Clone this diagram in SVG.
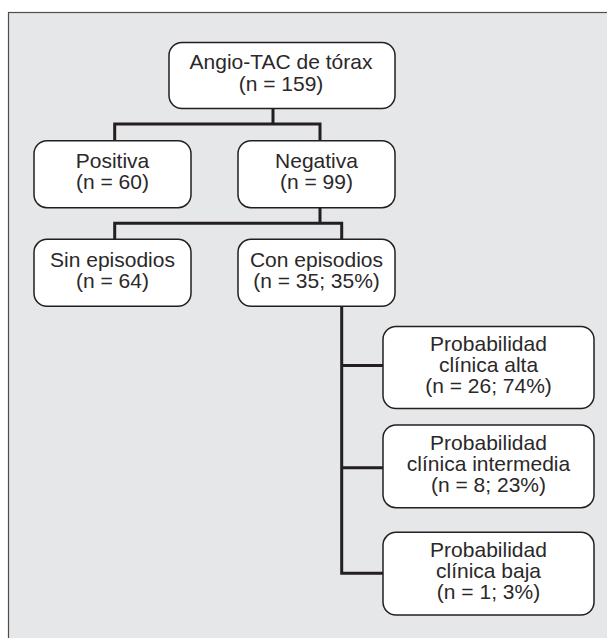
<svg xmlns="http://www.w3.org/2000/svg" width="607" height="638" viewBox="0 0 607 638">
<style>
.bg{fill:#ffffff}
.frame{fill:#e6e7e8;stroke:#4d4d4f;stroke-width:1.2}
.box{fill:#ffffff;stroke:#231f20;stroke-width:1.5}
.conn{fill:none;stroke:#231f20;stroke-width:3;stroke-linejoin:miter;stroke-linecap:butt}
text{font-family:"Liberation Sans",Arial,Helvetica,sans-serif;font-size:21px;fill:#2b2829;text-anchor:middle}
</style>
<rect class="bg" x="0" y="0" width="607" height="638"/>
<rect class="frame" x="8.5" y="12.5" width="610" height="640"/>
<g id="connectors">
<path class="conn" d="M273,108.5 V124 M114.7,140.7 V124 H320 V140.7"/>
<path class="conn" d="M320,207.7 V223.3 M114.7,239.3 V223.3 H341.7 V239.3"/>
<path class="conn" d="M341.7,306 V573.3 H383 M341.7,365.5 H383 M341.7,467.7 H383"/>
</g>
<g id="n_angio">
<rect class="box" x="169" y="42.5" width="226" height="66" rx="13"/>
<text x="281" y="69.3">Angio-TAC de tórax</text>
<text x="281" y="90.7">(n = 159)</text>
</g>
<g id="n_positiva">
<rect class="box" x="34" y="140.7" width="157" height="67" rx="13"/>
<text x="112.5" y="168.3">Positiva</text>
<text x="112.5" y="189.3">(n = 60)</text>
</g>
<g id="n_negativa">
<rect class="box" x="238" y="140.7" width="157" height="67" rx="13"/>
<text x="316.5" y="168.3">Negativa</text>
<text x="316.5" y="189.3">(n = 99)</text>
</g>
<g id="n_sin">
<rect class="box" x="34" y="239.3" width="157" height="67" rx="13"/>
<text x="112.5" y="266.7">Sin episodios</text>
<text x="112.5" y="287.7">(n = 64)</text>
</g>
<g id="n_con">
<rect class="box" x="238" y="239.3" width="157" height="67" rx="13"/>
<text x="316.5" y="266.7">Con episodios</text>
<text x="316.5" y="287.7">(n = 35; 35%)</text>
</g>
<g id="n_alta">
<rect class="box" x="383" y="326.5" width="211" height="82" rx="13"/>
<text x="488.5" y="351.3">Probabilidad</text>
<text x="488.5" y="372.3">clínica alta</text>
<text x="488.5" y="393.3">(n = 26; 74%)</text>
</g>
<g id="n_intermedia">
<rect class="box" x="383" y="425" width="211" height="82.7" rx="13"/>
<text x="488.5" y="450.3">Probabilidad</text>
<text x="488.5" y="471.3">clínica intermedia</text>
<text x="488.5" y="492.3">(n = 8; 23%)</text>
</g>
<g id="n_baja">
<rect class="box" x="383" y="532.3" width="211" height="82.7" rx="13"/>
<text x="488.5" y="557.3">Probabilidad</text>
<text x="488.5" y="578.3">clínica baja</text>
<text x="488.5" y="599.3">(n = 1; 3%)</text>
</g>
</svg>
